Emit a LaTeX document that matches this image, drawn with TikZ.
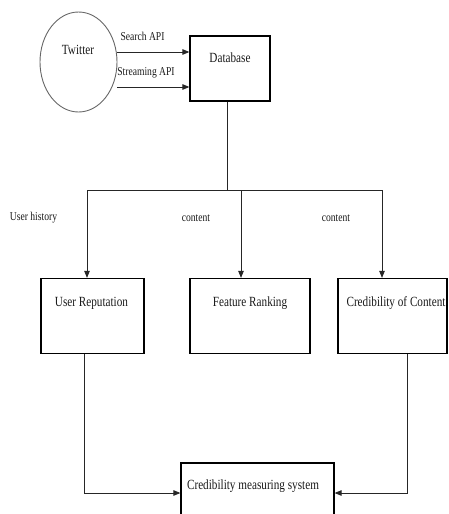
\documentclass[tikz,border=0pt]{standalone}
\usepackage{fontspec}
\setmainfont{Liberation Serif}
\usetikzlibrary{arrows.meta,shapes.geometric,calc}
\newcommand{\sqz}[1]{\scalebox{0.8}[1]{#1}}
\tikzset{
  box/.style={draw=black, line width=1.2pt, rectangle, inner sep=0pt},
  txt/.style={inner sep=0pt, font=\fontsize{14}{16}\selectfont, text=black!90},
  lbl/.style={inner sep=0pt, font=\fontsize{12}{14}\selectfont, text=black!90},
  line/.style={draw=black!85, line width=0.9pt},
  arr/.style={line, -{Triangle[length=7pt,width=5.5pt]}},
}
\begin{document}
\begin{tikzpicture}[x=1pt,y=-1pt]
\useasboundingbox (0,0) rectangle (449,514);
\clip (0,0) rectangle (449,514);
% Twitter
\node[ellipse, draw=black!60, line width=0.9pt, minimum width=77pt, minimum height=100pt, inner sep=0pt] (tw) at (78.5,62) {};
\node[txt] (twt) at (78,50) {\sqz{Twitter}};
% Database
\node[box, minimum width=80pt, minimum height=65pt] (db) at (230,68.5) {};
\node[txt] (dbt) at (230,58) {\sqz{Database}};
% API arrows
\coordinate (s1) at (117,52);
\coordinate (s2) at (117,87);
\draw[arr] (s1) -- (s1 -| db.west);
\draw[arr] (s2) -- (s2 -| db.west);
\node[lbl] (sapi) at (142.5,36) {\sqz{Search API}};
\node[lbl] (stapi) at (146,73) {\sqz{Streaming API}};
% Boxes
\node[box, minimum width=103pt, minimum height=75pt] (ur) at (92.5,316) {};
\node[txt] (urt) at (91.5,303) {\sqz{User Reputation}};
\node[box, minimum width=120pt, minimum height=75pt] (fr) at (250,316) {};
\node[txt] (frt) at (250,303) {\sqz{Feature Ranking}};
\node[box, minimum width=109pt, minimum height=75pt] (cc) at (392.5,316) {};
\node[txt] (cct) at (396,303) {\sqz{Credibility of Content}};
\node[box, minimum width=153pt, minimum height=60pt] (cms) at (257.5,493) {};
\node[txt] (cmst) at (253,486) {\sqz{Credibility measuring system}};
% distribution
\coordinate (j) at (227,190);
\coordinate (bl) at (87,190);
\coordinate (bm) at (241,190);
\coordinate (br) at (382,190);
\draw[line] (db.south -| j) -- (j);
\draw[line] (bl) -- (br);
\draw[arr] (bl) -- (bl |- ur.north);
\draw[arr] (bm) -- (bm |- fr.north);
\draw[arr] (br) -- (br |- cc.north);
\node[lbl] (uh) at (33.5,218) {\sqz{User history}};
\node[lbl] (c1) at (196,218) {\sqz{content}};
\node[lbl] (c2) at (336,218) {\sqz{content}};
% to CMS
\coordinate (d1) at (84,493);
\coordinate (d2) at (407,493);
\draw[arr] (d1 |- ur.south) -- (d1) -- (d1 -| cms.west);
\draw[arr] (d2 |- cc.south) -- (d2) -- (d2 -| cms.east);
\end{tikzpicture}
\end{document}
